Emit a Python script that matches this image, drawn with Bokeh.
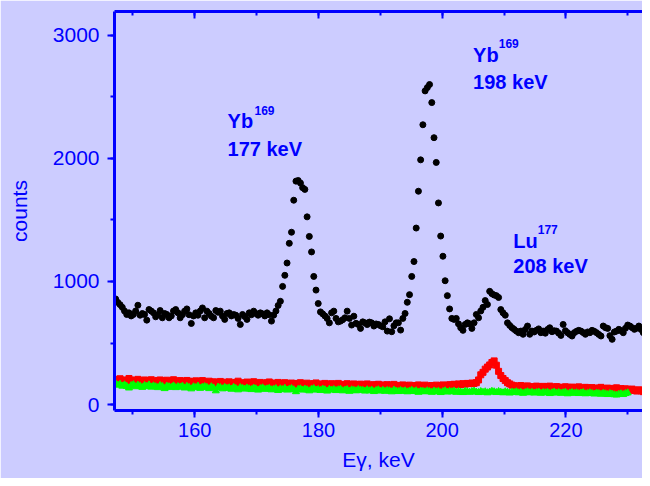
from bokeh.plotting import figure
from bokeh.models import Range1d, LinearAxis, SingleIntervalTicker, CustomLabelingPolicy
from bokeh.core.properties import value
from bokeh.embed import file_html
from bokeh.resources import INLINE

# ---- data ----
E_START = 147.2   # keV, first channel
E_STEP = 0.36     # keV per channel

black_counts = [
    858, 830, 812, 790, 760, 732, 745, 720, 732, 760,
    807, 726, 740, 732, 686, 772, 760, 745, 713, 730,
    764, 705, 740, 732, 705, 720, 760, 772, 745, 705,
    730, 759, 777, 730, 659, 720, 745, 726, 760, 785,
    705, 759, 740, 718, 705, 764, 750, 759, 720, 692,
    740, 745, 720, 732, 726, 700, 651, 732, 715, 692,
    745, 730, 759, 740, 726, 745, 737, 720, 745, 730,
    678, 726, 760, 805, 839, 960, 1050, 1150, 1310, 1400,
    1660, 1815, 1820, 1800, 1762, 1748, 1525, 1366, 1240, 1041,
    930, 821, 753, 737, 720, 700, 664, 745, 759, 700,
    672, 678, 690, 705, 759, 700, 646, 718, 660, 651,
    619, 672, 664, 650, 670, 664, 638, 655, 651, 640,
    632, 672, 597, 697, 592, 640, 664, 664, 605, 700,
    740, 831, 893, 1041, 1162, 1434, 1733, 1988, 2273, 2548,
    2575, 2600, 2453, 2168, 1967, 1638, 1369, 1205, 1006, 885,
    777, 700, 692, 700, 656, 624, 603, 651, 664, 656,
    619, 664, 732, 705, 760, 790, 845, 813, 920, 901,
    890, 885, 870, 772, 745, 726, 664, 643, 625, 611,
    597, 584, 597, 571, 610, 638, 571, 597, 590, 603,
    615, 584, 597, 580, 610, 624, 592, 600, 597, 580,
    562, 651, 600, 584, 570, 557, 584, 595, 603, 597,
    585, 571, 590, 584, 603, 595, 584, 570, 557, 638,
    625, 619, 560, 530, 590, 597, 611, 600, 584, 620,
    646, 638, 625, 611, 620, 638, 610, 584, 600, 619,
    610,
]

red_counts = [
    205, 198, 210, 195, 200, 190, 212, 200, 188, 196,
    205, 192, 185, 200, 195, 188, 202, 190, 183, 196,
    200, 186, 192, 198, 180, 190, 202, 185, 178, 195,
    188, 182, 196, 190, 176, 185, 193, 180, 188, 195,
    182,
    178, 190, 172, 185, 180, 168, 188, 176, 182, 170,
    185, 175, 168, 180, 190, 172, 178, 165, 183, 176,
    170, 186, 174, 168, 180, 172, 165, 178, 184, 170,
    175, 162, 180, 170, 166, 178, 172, 160, 175, 168,
    172, 164, 178, 166, 160, 174, 168, 158, 170, 176,
    162, 168, 158, 172, 165, 160, 170, 155, 166, 172,
    160, 164, 156, 170, 162, 158, 168, 155, 162, 166,
    152, 160, 168, 156, 150, 162, 158, 165, 152, 160,
    155, 162, 150, 158, 164, 152, 156, 150, 160, 154,
    148, 158, 152, 146, 155, 160, 148, 152, 158, 150,
    145, 155, 150, 158, 148, 154, 160, 150, 156, 162,
    158, 165, 160, 168, 163, 170, 166, 172, 170, 175,
    172, 178, 200, 242, 262, 288, 305, 322, 342, 355,
    320, 270, 236, 212, 195, 178, 168, 158, 153,
    150, 145, 155, 140, 148, 152, 142, 146, 138, 150,
    144, 140, 148, 136, 145, 150, 140, 135, 146, 142,
    138, 132, 145, 140, 136, 142, 130, 138, 144, 134,
    130, 140, 136, 128, 138, 132, 126, 135, 140, 130,
    126, 134, 128, 122, 132, 136, 125, 130, 120, 128,
    124, 118, 126, 115, 110, 120, 112, 105, 118, 125,
    140,
]

green_counts = [
    170, 158, 165, 150, 160, 148, 135, 155, 162, 145,
    158, 150, 140, 155, 148, 160, 142, 152, 145, 138,
    155, 148, 130, 150, 145, 140, 152, 138, 146, 142,
    150, 135, 148, 140, 128, 145, 138, 150, 132, 142,
    146,
    140, 130, 145, 135, 112, 142, 138, 128, 140, 132,
    136, 125, 140, 130, 120, 138, 132, 126, 135, 128,
    122, 134, 128, 118, 130, 136, 124, 128, 132, 120,
    126, 130, 115, 128, 122, 132, 118, 125, 130, 120,
    105, 124, 128, 118, 126, 120, 112, 125, 130, 118,
    122, 115, 126, 120, 110, 124, 118, 122, 114, 120,
    125, 112, 118, 122, 108, 120, 116, 112, 122, 118,
    116, 110, 120, 112, 118, 106, 114, 120, 110, 116,
    108, 115, 112, 104, 118, 110, 106, 114, 108, 112,
    104, 110, 116, 106, 112, 100, 110, 108, 104, 112,
    106, 100, 110, 104, 108, 98, 106, 112, 102, 108,
    104, 110, 100, 106, 102, 98, 108, 104, 100, 106,
    110, 102, 98, 106, 100, 104, 96, 102, 108,
    104, 98, 106, 100, 96, 104, 100, 94, 102, 98,
    104, 96, 100, 92, 98, 104, 96, 100, 94, 98,
    102, 92, 98, 96, 100, 90, 96, 102, 94, 98,
    92, 96, 100, 88, 94, 98, 92, 96, 90, 94,
    98, 88, 92, 96, 90, 86, 94, 90, 84, 92,
    88, 82, 90, 86, 80, 78, 84, 88, 82, 90,
    95,
]

energies = [round(E_START + E_STEP * i, 3) for i in range(len(black_counts))]

peak_names = ["Yb", "Yb", "Lu"]
peak_isotopes = ["169", "169", "177"]
peak_lines = ["177 keV", "198 keV", "208 keV"]

# label anchor positions (data coords: keV, counts)
name_x = [165.3, 205.0, 211.5]
name_y = [2300, 2838, 1332]
sup_dx = [4.35, 4.15, 3.95]
sup_dy = [88, 94, 94]
line_dy = [-223, -215, -210]

BLUE = "#0000FF"
BG = "#CCCCFF"
FONT = "Liberation Sans"

p = figure(width=642, height=478,
           x_range=Range1d(147.02, 232.39), y_range=Range1d(-48, 3193),
           output_backend="svg", toolbar_location=None,
           min_border_left=114, min_border_right=0,
           min_border_top=8, min_border_bottom=68,
           background_fill_color=BG, border_fill_color=BG,
           outline_line_color=None)
p.grid.visible = False

bottom = p.below[0]
left = p.left[0]

# series
p.scatter(energies, red_counts, marker="square", size=6,
          fill_color="#FF0000", line_color="#FF0000")
p.scatter(energies, green_counts, marker="triangle", size=7,
          fill_color="#00FF00", line_color="#00FF00")
p.scatter(energies, black_counts, marker="circle", size=6,
          fill_color="#000000", line_color="#000000")

# annotations
p.text(x=name_x, y=name_y, text=peak_names,
       text_font=value(FONT), text_font_style="bold", text_font_size="20px",
       text_color=BLUE, text_baseline="alphabetic", text_align="left")
p.text(x=[a + b for a, b in zip(name_x, sup_dx)],
       y=[a + b for a, b in zip(name_y, sup_dy)], text=peak_isotopes,
       text_font=value(FONT), text_font_style="bold", text_font_size="12px",
       text_color=BLUE, text_baseline="alphabetic", text_align="left")
p.text(x=name_x, y=[a + b for a, b in zip(name_y, line_dy)], text=peak_lines,
       text_font=value(FONT), text_font_style="bold", text_font_size="20px",
       text_color=BLUE, text_baseline="alphabetic", text_align="left")

# axes
top = LinearAxis()
p.add_layout(top, "above")

bottom.ticker = SingleIntervalTicker(interval=20, num_minor_ticks=2)
top.ticker = SingleIntervalTicker(interval=20, num_minor_ticks=2)
left.ticker = SingleIntervalTicker(interval=1000, num_minor_ticks=2)

for ax in [bottom, left, top]:
    ax.axis_line_color = BLUE
    ax.axis_line_width = 3
    ax.major_tick_line_color = BLUE
    ax.major_tick_line_width = 2
    ax.minor_tick_line_color = BLUE
    ax.minor_tick_line_width = 2
    ax.major_label_text_color = BLUE
    ax.major_label_text_font = FONT
    ax.axis_label_text_color = BLUE
    ax.axis_label_text_font = FONT
    ax.axis_label_text_font_style = "normal"
    ax.axis_label_text_font_size = "21px"

for ax in [bottom, left]:
    ax.major_tick_out = 7
    ax.major_tick_in = 0
    ax.minor_tick_out = 4
    ax.minor_tick_in = 0

top.major_tick_out = 0
top.major_tick_in = 7
top.minor_tick_out = 0
top.minor_tick_in = 4
top.major_label_standoff = 0
top.major_label_policy = CustomLabelingPolicy(code="return new Set()")

bottom.major_label_text_font_size = "20px"
bottom.major_label_standoff = 5
bottom.axis_label = "Eγ, keV"
bottom.axis_label_standoff = 8

left.major_label_text_font_size = "21px"
left.major_label_standoff = 8
left.axis_label = "counts"
left.axis_label_standoff = 19

open("out.html", "w").write(file_html(p, INLINE))
